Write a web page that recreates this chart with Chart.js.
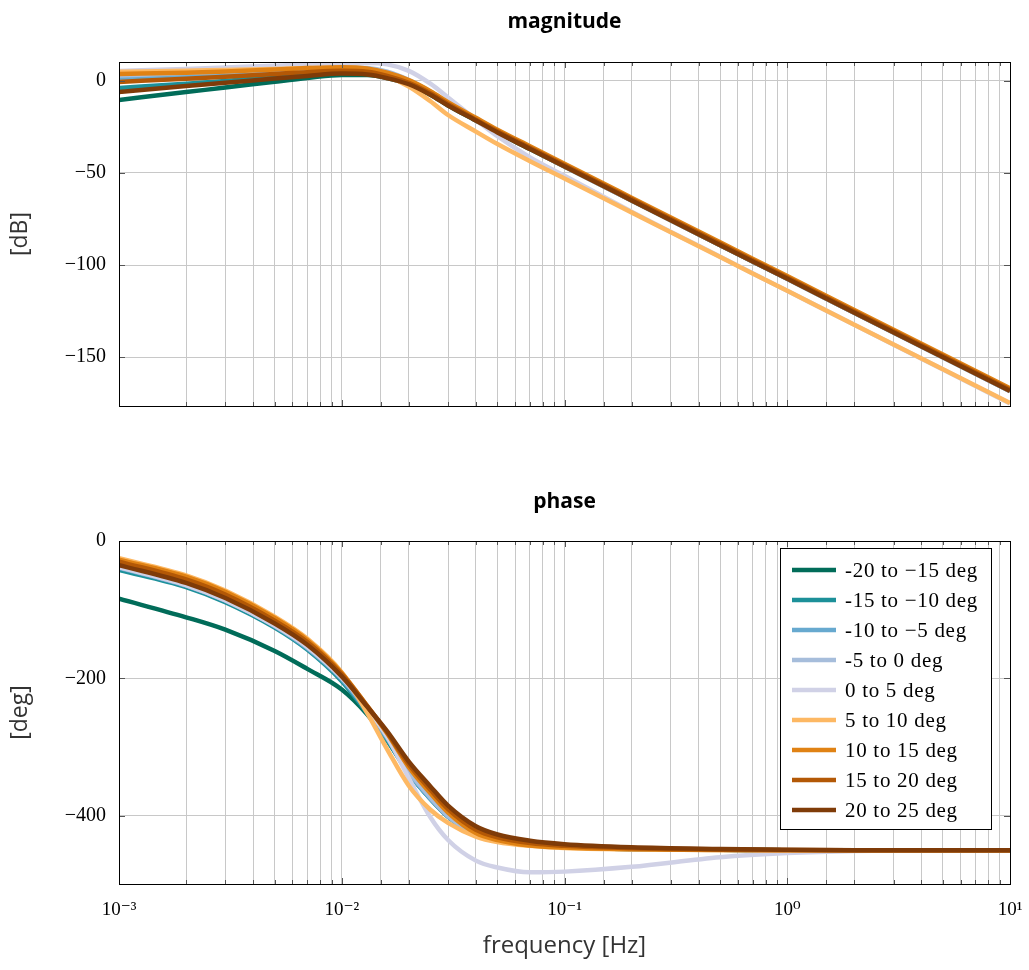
<!DOCTYPE html>
<html>
<head>
<meta charset="utf-8">
<script src="https://cdn.jsdelivr.net/npm/chart.js@4.4.1/dist/chart.umd.min.js"></script>
<style>
  body { margin: 0; background: #fff; }
  #contenedor { position: relative; width: 1029px; height: 970px; }
  #chartMagnitud { position: absolute; left: 0; top: 0; }
  #chartFase { position: absolute; left: 0; top: 440px; }
</style>
</head>
<body>
<div id="contenedor">
  <canvas id="chartMagnitud" width="1029" height="440"></canvas>
  <canvas id="chartFase" width="1029" height="530"></canvas>
</div>
<script>
// Frecuencias [Hz] donde se leen los valores
const frecuencias = [0.001, 0.002, 0.003, 0.005, 0.007, 0.01, 0.013, 0.016, 0.02, 0.025, 0.03, 0.04, 0.05, 0.07, 0.1, 0.2, 0.5, 1, 2, 5, 10];

const etiquetas = ["-20 to \u221215 deg", "-15 to \u221210 deg", "-10 to \u22125 deg", "-5 to 0 deg", "0 to 5 deg",
  "5 to 10 deg", "10 to 15 deg", "15 to 20 deg", "20 to 25 deg"];
const colores = ["#016c59", "#1c9099", "#67a9cf", "#a6bddb", "#d0d1e6", "#fdb863", "#e08214", "#b35806", "#7f3b08"];
const etiquetas_x = ["10\u207B\u00B3", "10\u207B\u00B2", "10\u207B\u00B9", "10\u2070", "10\u00B9"];

// Magnitud [dB]
const mag_m20 = [-10.3, -6, -3.6, -0.4, 1.6, 3.3, 3.2, 1.6, -1.8, -7.5, -13.3, -21.5, -28, -37, -46.5, -64.9, -89.2, -107.5, -125.9, -150.1, -168.5];
const mag_m15 = [-3.8, -1.5, 0, 2, 3.5, 4.8, 4.4, 2.6, -1.2, -7, -12.8, -21, -27.5, -36.5, -46, -64.4, -88.7, -107, -125.4, -149.6, -168];
const mag_m10 = [1.6, 3, 4, 5, 6, 6.5, 6, 4, 0, -6, -12, -20.5, -27, -36, -45.5, -64, -88.3, -106.6, -125, -149.2, -167.6];
const mag_m5 = [3, 4.3, 5, 6, 6.8, 7.3, 7, 5, 0.5, -5.8, -12, -20.5, -27, -36.5, -46.5, -65, -89.3, -107.6, -126, -150.2, -168.6];
const mag_0 = [5.4, 6.5, 7.3, 8.3, 9, 9.5, 9.7, 9, 5.5, -1.5, -9, -21, -30, -41.5, -51.5, -71, -95.5, -114, -132.5, -156.8, -175.3];
const mag_5 = [5, 5.5, 6, 6.5, 7, 7, 5.6, 2.5, -3, -11, -18.5, -27.5, -34.3, -43.6, -53, -71.4, -95.7, -114, -132.4, -156.6, -175];
const mag_10 = [3.8, 4.5, 5.2, 6.2, 7, 7.5, 6.8, 4.5, 0.5, -5.5, -11.5, -20, -26.5, -35.5, -45, -63.4, -87.7, -106, -124.4, -148.6, -167];
const mag_15 = [-0.5, 1.2, 2.3, 3.8, 4.8, 5.5, 5, 2.8, -1, -6.7, -12.5, -21, -27.3, -36.3, -45.8, -64.2, -88.5, -106.8, -125.2, -149.4, -167.8];
const mag_20 = [-6, -2.7, -1, 1.3, 2.7, 4, 3.5, 1.5, -1.8, -7.5, -13.3, -21.5, -28, -37, -46.5, -64.9, -89.2, -107.5, -125.9, -150.1, -168.5];

// Fase [deg]
const fase_m20 = [-84, -111, -129, -160, -186, -216, -252, -290, -337, -375, -401, -427, -436, -442, -445, -448, -449.3, -449.8, -450, -450, -450];
const fase_m15 = [-42, -67, -89, -126, -158, -204, -250, -290, -338, -375, -401, -427, -436, -442, -445, -448, -449.3, -449.8, -450, -450, -450];
const fase_m10 = [-39, -65, -87, -124, -156, -201, -247, -287, -337, -375, -401, -427, -436, -442, -445, -448, -449.3, -449.8, -450, -450, -450];
const fase_m5 = [-38, -64, -86, -123, -154, -199, -244, -284, -335, -373, -400, -426, -435, -441.5, -445, -448, -449.3, -449.8, -450, -450, -450];
const fase_0 = [-38, -64, -86, -123, -154, -199, -243, -285, -345, -402, -435, -465, -475, -482, -481, -474, -460, -454, -451, -450, -450];
const fase_5 = [-25, -50, -72, -110, -142, -191, -250, -303, -356, -391, -410, -430, -438, -443.5, -446.5, -448.5, -449.5, -450, -450, -450, -450];
const fase_10 = [-27, -52, -74, -112, -144, -192, -240, -280, -329, -367, -395, -425, -435, -443, -446, -448.5, -449.7, -450, -450, -450, -450];
const fase_15 = [-30, -56, -78, -116, -147, -194, -240, -279, -325, -362, -390, -420, -431, -439.5, -443.5, -447, -449, -449.7, -450, -450, -450];
const fase_20 = [-35, -61, -83, -120, -151, -197, -241, -277, -321, -357, -385, -415, -427, -436, -441, -445.5, -448, -449.2, -449.8, -450, -450];

const magnitudes = [mag_m20, mag_m15, mag_m10, mag_m5, mag_0, mag_5, mag_10, mag_15, mag_20];
const fases = [fase_m20, fase_m15, fase_m10, fase_m5, fase_0, fase_5, fase_10, fase_15, fase_20];

const fuente_serif = '"Liberation Serif", "DejaVu Serif", serif';
const fuente_sans = '"Open Sans", "DejaVu Sans", sans-serif';

function menos(v) {
  return v < 0 ? "\u2212" + Math.abs(v) : "" + v;
}

// titulo centrado sobre el area del grafico
function titulo(texto, y) {
  return {
    id: 'titulo',
    afterDraw(chart) {
      const a = chart.chartArea, ctx = chart.ctx;
      ctx.save();
      ctx.font = 'bold 21px ' + fuente_sans;
      ctx.fillStyle = '#000';
      ctx.textAlign = 'center';
      ctx.textBaseline = 'middle';
      ctx.fillText(texto, (a.left + a.right) / 2, y);
      ctx.restore();
    }
  };
}

// marco negro + marcas de los ejes hacia dentro
const marco = {
  id: 'marco',
  afterDraw(chart) {
    const a = chart.chartArea, ctx = chart.ctx;
    ctx.save();
    ctx.strokeStyle = '#555';
    ctx.lineWidth = 1;
    chart.scales.x.ticks.forEach(t => {
      const px = Math.round(chart.scales.x.getPixelForValue(t.value)) + 0.5;
      const e = Math.log10(t.value);
      const largo = Math.abs(e - Math.round(e)) < 1e-6 ? 6 : 4;
      ctx.beginPath();
      ctx.moveTo(px, a.bottom); ctx.lineTo(px, a.bottom - largo);
      ctx.moveTo(px, a.top); ctx.lineTo(px, a.top + largo);
      ctx.stroke();
    });
    chart.scales.y.ticks.forEach(t => {
      const py = Math.round(chart.scales.y.getPixelForValue(t.value)) + 0.5;
      ctx.beginPath();
      ctx.moveTo(a.left, py); ctx.lineTo(a.left + 6, py);
      ctx.moveTo(a.right, py); ctx.lineTo(a.right - 6, py);
      ctx.stroke();
    });
    ctx.strokeStyle = '#000';
    ctx.strokeRect(Math.round(a.left) + 0.5, Math.round(a.top) + 0.5, Math.round(a.right - a.left), Math.round(a.bottom - a.top));
    ctx.restore();
  }
};

// leyenda dentro del area del grafico de fase
const leyenda = {
  id: 'leyenda',
  afterDraw(chart) {
    const a = chart.chartArea, ctx = chart.ctx;
    const w = 211, h = 281;
    const x0 = Math.round(a.right) - 19 - w, y0 = Math.round(a.top) + 7;
    ctx.save();
    ctx.fillStyle = '#fff';
    ctx.fillRect(x0, y0, w, h);
    ctx.strokeStyle = '#000';
    ctx.lineWidth = 1;
    ctx.strokeRect(x0 + 0.5, y0 + 0.5, w, h);
    ctx.font = '21px ' + fuente_serif;
    ctx.letterSpacing = '0.7px';
    ctx.textBaseline = 'middle';
    etiquetas.forEach((t, i) => {
      const y = y0 + 22 + i * 30;
      ctx.strokeStyle = colores[i];
      ctx.lineWidth = 4.5;
      ctx.beginPath();
      ctx.moveTo(x0 + 12, y);
      ctx.lineTo(x0 + 56, y);
      ctx.stroke();
      ctx.fillStyle = '#000';
      ctx.fillText(t, x0 + 65, y + 1);
    });
    ctx.restore();
  }
};

function datasets(series) {
  // el ultimo dataset se dibuja encima (como en el original)
  return series.map((s, i) => ({
    label: etiquetas[i],
    data: frecuencias.map((f, j) => ({ x: f, y: s[j] })),
    borderColor: colores[i],
    backgroundColor: colores[i],
    borderWidth: 4.5,
    pointRadius: 0,
    cubicInterpolationMode: 'monotone',
    order: series.length - i
  }));
}

function escala_x(con_etiquetas, alto) {
  return {
    type: 'logarithmic',
    min: 0.001,
    max: 10,
    afterFit: s => {
      s.height = alto;
      // sin margen extra por la ultima etiqueta
      s.paddingLeft = 0;
      s.paddingRight = 0;
    },
    grid: { color: '#c8c8c8', lineWidth: 1, drawTicks: false },
    border: { display: false },
    ticks: {
      display: con_etiquetas,
      autoSkip: false,
      maxRotation: 0,
      padding: 15,
      color: '#000',
      font: { family: fuente_serif, size: 19 },
      callback: function (v) {
        const e = Math.log10(v);
        if (Math.abs(e - Math.round(e)) < 1e-6) return etiquetas_x[Math.round(e) + 3];
        return '';
      }
    },
    title: {
      display: con_etiquetas,
      text: 'frequency [Hz]',
      color: '#333',
      font: { family: fuente_sans, size: 24 },
      padding: { top: 4, bottom: 9 }
    }
  };
}

function escala_y(min, max, paso, texto) {
  return {
    min: min,
    max: max,
    afterFit: s => { s.width = 119; },
    grid: { color: '#c8c8c8', lineWidth: 1, drawTicks: false },
    border: { display: false },
    ticks: {
      stepSize: paso,
      includeBounds: false,
      padding: 13,
      color: '#000',
      font: { family: fuente_serif, size: 20 },
      callback: v => menos(v)
    },
    title: {
      display: true,
      text: texto,
      color: '#333',
      font: { family: fuente_sans, size: 23 },
      padding: { top: 7, bottom: 0 }
    }
  };
}

function opciones(arriba, escalaX, escalaY) {
  return {
    responsive: false,
    animation: false,
    devicePixelRatio: 1,
    layout: { padding: { left: 0, right: 19, top: arriba, bottom: 0 } },
    plugins: {
      legend: { display: false },
      tooltip: { enabled: false },
      title: { display: false }
    },
    scales: { x: escalaX, y: escalaY }
  };
}

function grafico_magnitud() {
  const canvas = document.getElementById('chartMagnitud');
  new Chart(canvas, {
    type: 'line',
    data: { datasets: datasets(magnitudes) },
    options: opciones(62, escala_x(false, 34), escala_y(-176.6, 10.3, 50, '[dB]')),
    plugins: [marco, titulo('magnitude', 22)]
  });
}

function grafico_fase() {
  const canvas = document.getElementById('chartFase');
  new Chart(canvas, {
    type: 'line',
    data: { datasets: datasets(fases) },
    options: opciones(101, escala_x(true, 86), escala_y(-499, 0, 200, '[deg]')),
    plugins: [marco, leyenda, titulo('phase', 62)]
  });
}

grafico_magnitud();
grafico_fase();
</script>
</body>
</html>
